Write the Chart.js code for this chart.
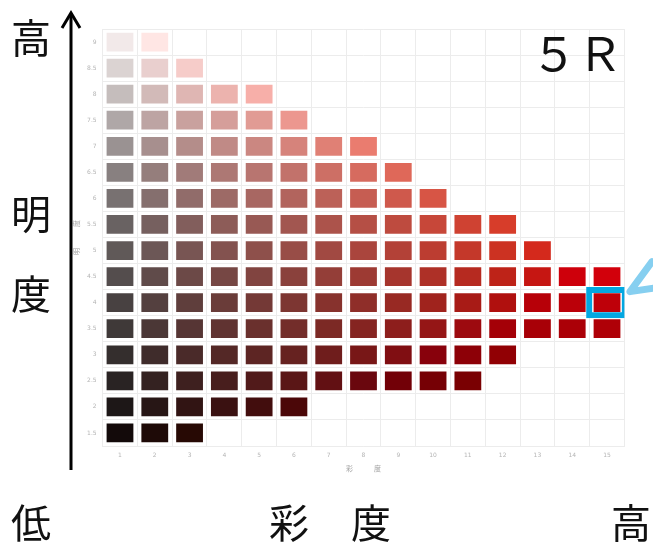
<!DOCTYPE html>
<html lang="ja">

<head>
  <meta charset="UTF-8">
  <title>5R 明度・彩度</title>
  <script src="https://cdn.jsdelivr.net/npm/chart.js"></script>
  <style>
    body { margin: 0; background: #fff; }
    #wrap { position: relative; width: 653px; height: 543px; overflow: hidden; }
    #chart { position: absolute; left: 0; top: 0; }
    .big {
      position: absolute;
      width: 44px;
      height: 40px;
      font-family: "Noto Sans CJK JP", sans-serif;
      font-size: 40px;
      line-height: 40px;
      text-align: center;
      color: #111;
    }
    #hue {
      position: absolute;
      left: 527px;
      top: 28px;
      width: 100px;
      font-family: "Noto Sans CJK JP", sans-serif;
      font-size: 46px;
      line-height: 46px;
      text-align: center;
      color: #111;
    }
  </style>
</head>

<body>
  <div id="wrap">
    <canvas id="chart" width="653" height="543"></canvas>
    <div class="big" style="left:9px;top:16px">高</div>
    <div class="big" style="left:9px;top:192px">明</div>
    <div class="big" style="left:9px;top:272px">度</div>
    <div class="big" style="left:9px;top:501px">低</div>
    <div class="big" style="left:267px;top:501px">彩</div>
    <div class="big" style="left:349px;top:501px">度</div>
    <div class="big" style="left:609px;top:501px">高</div>
    <div id="hue">５Ｒ</div>
  </div>

  <script>
    // chroma steps (columns) and value steps (rows, top to bottom)
    const chromaLabels = ['1', '2', '3', '4', '5', '6', '7', '8', '9', '10', '11', '12', '13', '14', '15'];
    const valueLevels = [9, 8.5, 8, 7.5, 7, 6.5, 6, 5.5, 5, 4.5, 4, 3.5, 3, 2.5, 2, 1.5];
    // how many chroma steps each value row has
    const rowChromaCount = [2, 3, 5, 6, 8, 9, 10, 12, 13, 15, 15, 15, 12, 11, 6, 3];
    // the marked chip
    const pickedValue = 4;
    const pickedChroma = '15';

    // look of the chips (photo tone), not data
    const rowLightness = [93, 85, 77, 69, 61, 54, 48, 42, 38, 33, 28, 24, 19, 14, 8, 3];

    function labToRgb(L, a, b) {
      let fy = (L + 16) / 116, fx = fy + a / 500, fz = fy - b / 200;
      const f = t => t > 6 / 29 ? t * t * t : 3 * (6 / 29) * (6 / 29) * (t - 4 / 29);
      const X = 0.95047 * f(fx), Y = f(fy), Z = 1.08883 * f(fz);
      const r = 3.2406 * X - 1.5372 * Y - 0.4986 * Z;
      const g = -0.9689 * X + 1.8758 * Y + 0.0415 * Z;
      const bl = 0.0557 * X - 0.2040 * Y + 1.0570 * Z;
      return [r, g, bl];
    }
    const gam = c => c <= 0.0031308 ? 12.92 * c : 1.055 * Math.pow(c, 1 / 2.4) - 0.055;
    const inGamut = rgb => rgb.every(c => c >= -0.001 && c <= 1.001);

    function chipColor(rowIdx, colIdx) {
      const Cwant = 3 + 6.5 * colIdx;
      const L0 = rowLightness[rowIdx];
      const L = Math.min(97, L0 + 0.17 * Cwant * (1 - L0 / 100));
      const h = Math.min(38, 23 + 0.2 * Cwant) * Math.PI / 180;
      let lo = 0, hi = Cwant;
      let rgb = labToRgb(L, Cwant * Math.cos(h), Cwant * Math.sin(h));
      if (!inGamut(rgb)) {
        for (let k = 0; k < 30; k++) {
          const mid = (lo + hi) / 2;
          if (inGamut(labToRgb(L, mid * Math.cos(h), mid * Math.sin(h)))) lo = mid; else hi = mid;
        }
        rgb = labToRgb(L, lo * Math.cos(h), lo * Math.sin(h));
      }
      const c = rgb.map(v => Math.round(255 * gam(Math.min(1, Math.max(0, v)))));
      return `rgb(${c[0]}, ${c[1]}, ${c[2]})`;
    }

    const half = 0.18;
    const datasets = valueLevels.map((v, r) => ({
      label: String(v),
      data: chromaLabels.map((c, i) => i < rowChromaCount[r] ? [v - half, v + half] : null),
      backgroundColor: chromaLabels.map((c, i) => chipColor(r, i)),
      borderWidth: 0,
      borderSkipped: false,
      grouped: false,
      barPercentage: 0.77,
      categoryPercentage: 1,
      order: 0
    }));

    datasets.push({
      label: 'picked',
      data: chromaLabels.map(c => c === pickedChroma ? [pickedValue - 0.3, pickedValue + 0.3] : null),
      backgroundColor: 'rgba(0,0,0,0)',
      borderColor: '#03a7e1',
      borderWidth: 6,
      borderSkipped: false,
      grouped: false,
      barPercentage: 1.2,
      categoryPercentage: 1,
      order: -1
    });

    const yTicks = [];
    for (let t = 1.25; t <= 9.25 + 1e-9; t += 0.25) yTicks.push(Math.round(t * 100) / 100);
    const isEdge = v => Math.abs(((v - 1.25) / 0.5) - Math.round((v - 1.25) / 0.5)) < 1e-6;

    const arrowsPlugin = {
      id: 'arrows',
      afterDraw(chart) {
        const ctx = chart.ctx;
        ctx.save();
        // black value arrow on the left
        ctx.strokeStyle = '#000';
        ctx.lineWidth = 3;
        ctx.beginPath();
        ctx.moveTo(71, 470);
        ctx.lineTo(71, 13);
        ctx.stroke();
        ctx.beginPath();
        ctx.moveTo(62, 28);
        ctx.lineTo(71, 13);
        ctx.lineTo(80, 28);
        ctx.stroke();

        // light blue pointer at the marked chip
        const xs = chart.scales.x, ys = chart.scales.y;
        const tipX = xs.getPixelForValue(chromaLabels.indexOf(pickedChroma)) + 23;
        const tipY = ys.getPixelForValue(pickedValue) - 11;
        ctx.strokeStyle = '#86cff0';
        ctx.lineWidth = 7;
        ctx.lineCap = 'round';
        ctx.lineJoin = 'round';
        ctx.beginPath();
        ctx.moveTo(tipX + 22, tipY - 30);
        ctx.lineTo(tipX, tipY);
        ctx.lineTo(tipX + 34, tipY - 5);
        ctx.stroke();
        ctx.restore();
      }
    };

    const tickFont = { family: 'DejaVu Sans', size: 6 };

    new Chart(document.getElementById('chart').getContext('2d'), {
      type: 'bar',
      data: { labels: chromaLabels, datasets: datasets },
      options: {
        responsive: false,
        animation: false,
        devicePixelRatio: 1,
        layout: { padding: { left: 0, right: 28.6, top: 29, bottom: 0 } },
        plugins: { legend: { display: false }, tooltip: { enabled: false } },
        scales: {
          x: {
            grid: { color: '#ececec', drawTicks: false, offset: true },
            border: { color: '#ececec' },
            ticks: { font: tickFont, color: '#b5b5b5', padding: 6, maxRotation: 0 },
            title: {
              display: true, text: '彩　　　度', color: '#a0a0a0',
              font: { family: 'Noto Sans CJK JP', size: 7 }, padding: { top: 0, bottom: 70 }
            },
            afterFit(scale) { scale.height = 97; }
          },
          y: {
            min: 1.25,
            max: 9.25,
            afterBuildTicks(scale) { scale.ticks = yTicks.map(v => ({ value: v })); },
            grid: {
              drawTicks: false,
              color: c => isEdge(c.tick.value) ? '#ececec' : 'rgba(0,0,0,0)'
            },
            border: { color: '#ececec' },
            ticks: {
              autoSkip: false,
              font: tickFont,
              color: '#b5b5b5',
              padding: 6,
              callback: v => isEdge(v) ? '' : String(v)
            },
            title: {
              display: true, text: '明　　　度', color: '#a0a0a0',
              font: { family: 'Noto Sans CJK JP', size: 7 }, padding: { top: 72, bottom: 0 }
            },
            afterFit(scale) { scale.width = 102.6; }
          }
        }
      },
      plugins: [arrowsPlugin]
    });
  </script>
</body>

</html>
